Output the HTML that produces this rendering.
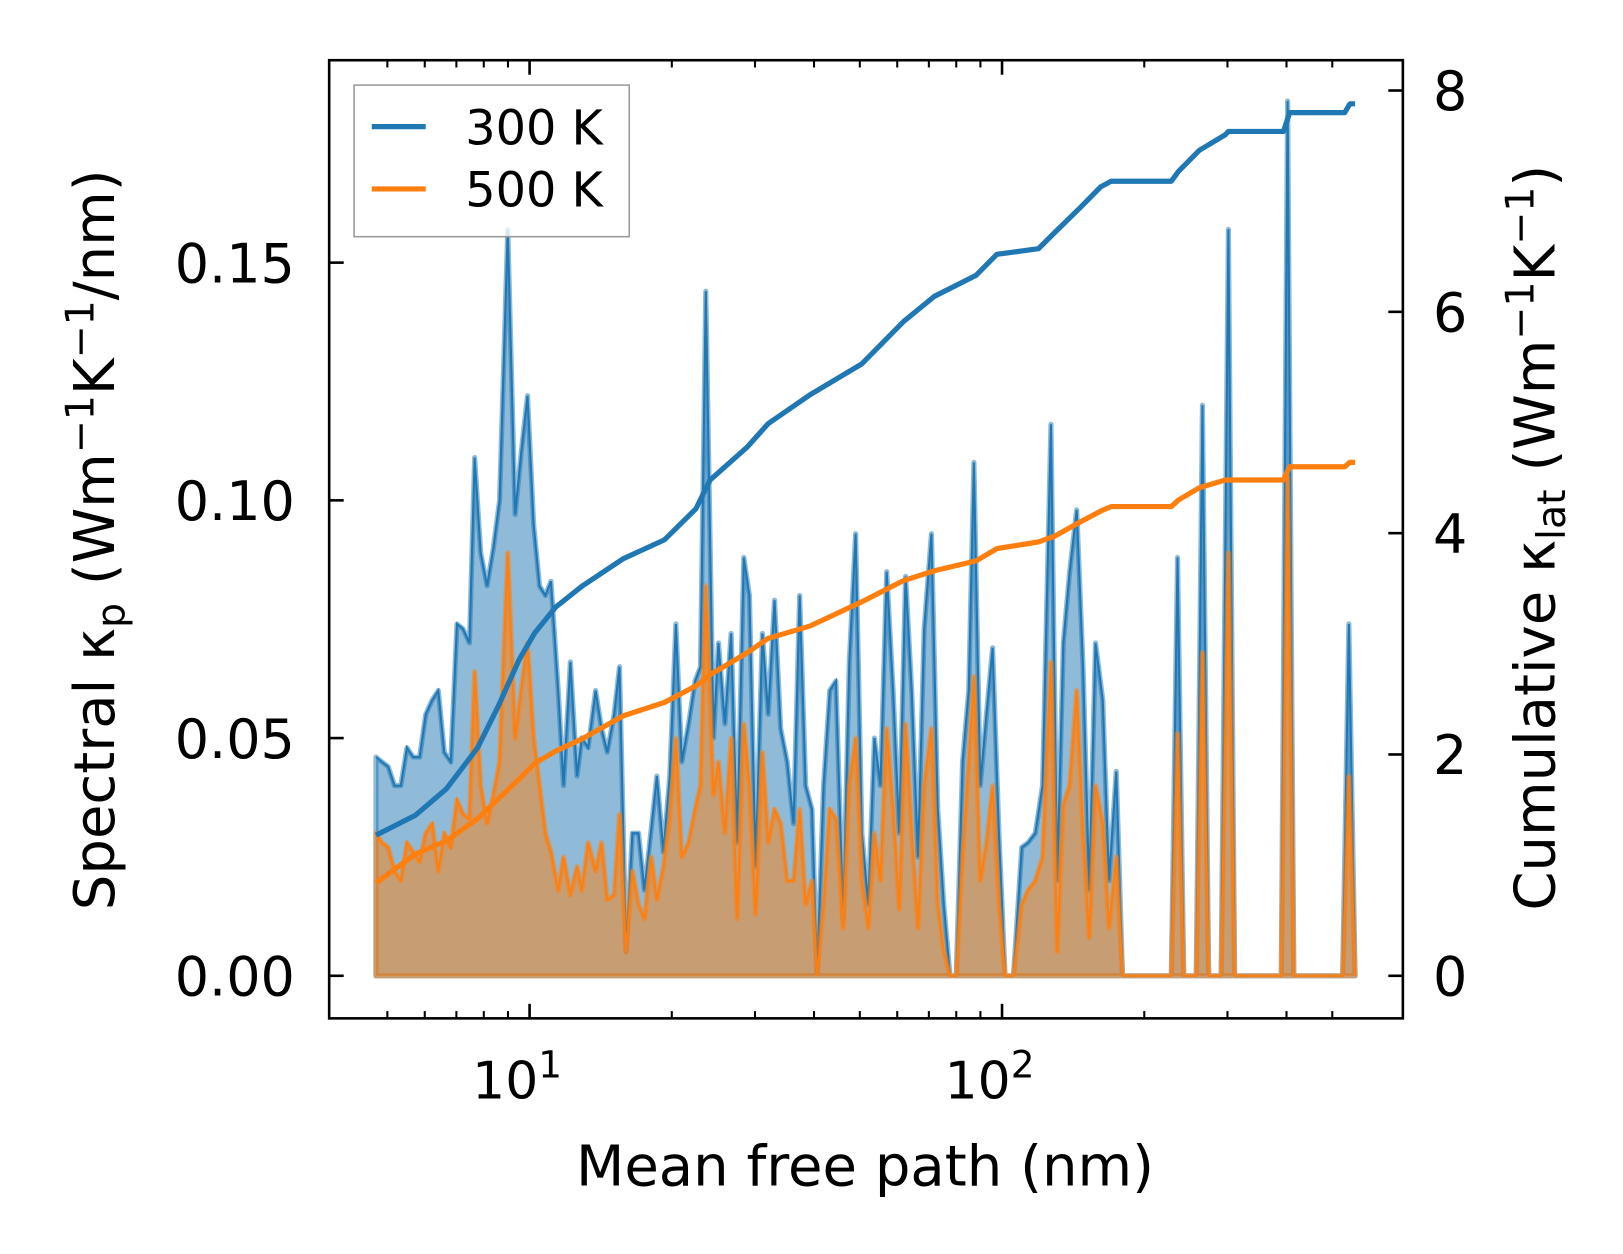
<!DOCTYPE html>
<html><head><meta charset="utf-8"><style>
html,body{margin:0;padding:0;background:#fff;}
svg text{font-family:"DejaVu Sans","Liberation Sans",sans-serif;fill:#000;}
</style></head><body>
<svg id="chart" style="position:absolute;left:0;top:0" width="1623" height="1254" viewBox="0 0 1563 1208" preserveAspectRatio="none" xmlns="http://www.w3.org/2000/svg">
<rect width="1563" height="1208" fill="#fff"/>
<g id="plot"></g>
<g id="axes"></g>
</svg>
<script>
const mfp = [4.73,4.87,5.02,5.18,5.34,5.50,5.67,5.85,6.03,6.22,6.41,6.60,6.81,7.02,7.23,7.46,7.65,7.88,8.13,8.38,8.64,8.99,9.32,9.60,9.90,10.2,10.5,10.8,11.1,11.5,11.8,12.2,12.6,12.9,13.3,13.8,14.2,14.6,15.1,15.5,16.0,16.5,17.0,17.5,18.1,18.6,19.2,19.8,20.4,21.0,21.7,22.4,23.0,23.6,24.5,25.1,25.9,26.7,27.5,28.4,29.2,30.1,31.1,32.0,33.0,34.0,35.1,36.2,37.3,38.4,39.6,40.6,41.9,43.2,44.5,46.1,47.5,49.0,50.5,52.1,53.7,55.3,57.0,58.8,60.6,62.5,64.4,66.4,68.4,70.9,73.1,75.3,77.6,80.0,82.5,85.0,87.2,89.9,92.7,95.5,98.5,101.5,105.7,110.1,113.5,117.6,121.8,126.9,130.8,134.8,139.0,143.9,148.4,153.0,157.7,163.4,168.4,174.5,179.9,228.2,235.2,242.4,257.6,265.6,273.8,290.9,301.4,310.7,390.0,402.1,414.5,525.9,542.1,558.8];
const spec300 = [0.046,0.045,0.044,0.040,0.040,0.048,0.046,0.046,0.055,0.058,0.060,0.047,0.045,0.074,0.073,0.070,0.109,0.089,0.082,0.090,0.100,0.157,0.097,0.110,0.122,0.095,0.082,0.080,0.083,0.060,0.040,0.066,0.042,0.050,0.048,0.060,0.052,0.047,0.055,0.065,0.005,0.030,0.030,0.018,0.031,0.042,0.026,0.042,0.074,0.045,0.053,0.062,0.065,0.144,0.050,0.070,0.053,0.072,0.028,0.088,0.080,0.023,0.072,0.055,0.079,0.052,0.045,0.032,0.080,0.040,0.035,0.000,0.040,0.060,0.062,0.012,0.066,0.093,0.030,0.015,0.050,0.040,0.085,0.060,0.030,0.084,0.060,0.025,0.073,0.093,0.035,0.015,0.000,0.000,0.045,0.060,0.108,0.040,0.055,0.069,0.030,0.000,0.000,0.027,0.028,0.030,0.040,0.116,0.020,0.070,0.085,0.098,0.065,0.018,0.070,0.058,0.020,0.043,0.000,0.000,0.088,0.000,0.000,0.120,0.000,0.000,0.157,0.000,0.000,0.184,0.000,0.000,0.074,0.000];
const spec500 = [0.030,0.028,0.027,0.022,0.020,0.028,0.026,0.024,0.030,0.032,0.022,0.030,0.027,0.037,0.034,0.033,0.064,0.040,0.032,0.038,0.045,0.089,0.050,0.060,0.070,0.050,0.040,0.030,0.026,0.018,0.025,0.017,0.023,0.018,0.028,0.022,0.028,0.016,0.017,0.034,0.005,0.022,0.015,0.012,0.025,0.016,0.023,0.033,0.050,0.025,0.028,0.035,0.040,0.082,0.038,0.045,0.030,0.050,0.012,0.053,0.040,0.013,0.047,0.028,0.035,0.032,0.020,0.020,0.035,0.015,0.020,0.000,0.015,0.035,0.033,0.010,0.040,0.050,0.020,0.010,0.030,0.020,0.052,0.035,0.014,0.053,0.030,0.010,0.040,0.052,0.015,0.005,0.000,0.000,0.025,0.045,0.063,0.020,0.028,0.040,0.015,0.000,0.000,0.015,0.018,0.020,0.025,0.066,0.005,0.036,0.040,0.060,0.030,0.008,0.040,0.032,0.010,0.025,0.000,0.000,0.051,0.000,0.000,0.068,0.000,0.000,0.089,0.000,0.000,0.105,0.000,0.000,0.042,0.000];
const cumMfp = [4.73,5.73,6.67,7.76,8.59,9.51,10.26,11.35,12.9,15.8,19.3,22.5,24.1,28.9,32.0,39.2,50.5,61.8,71.9,88.1,97.5,119.4,128.8,146.2,161.8,170.1,228.2,236.4,261.6,296.9,301.4,394.0,406.3,531.3,544.9,558.8];
const cum300 = [1.27,1.45,1.69,2.06,2.44,2.86,3.10,3.33,3.52,3.77,3.94,4.22,4.48,4.78,4.99,5.25,5.53,5.91,6.14,6.33,6.52,6.57,6.71,6.94,7.13,7.18,7.18,7.27,7.46,7.60,7.63,7.63,7.80,7.80,7.88,7.88];
const cum500 = [0.84,1.10,1.22,1.42,1.60,1.78,1.92,2.03,2.14,2.35,2.47,2.62,2.72,2.92,3.05,3.16,3.38,3.57,3.66,3.75,3.86,3.92,3.97,4.10,4.20,4.24,4.24,4.30,4.41,4.48,4.48,4.48,4.60,4.60,4.64,4.64];
const leftTicks = [0.00,0.05,0.10,0.15];
const leftLabels = ["0.00","0.05","0.10","0.15"];
const rightTicks = [0,2,4,6,8];
const xMajor = [10,100];

const NS="http://www.w3.org/2000/svg";
const L=317,R=1351,T=58,B=981;
const xs = v => 510 + 455*(Math.log10(v)-1);
const yl = v => 940 - v*4580;
const yr = v => 940 - v*106.6;
const plot=document.getElementById('plot'), axes=document.getElementById('axes');
function mk(tag,attrs,parent){const e=document.createElementNS(NS,tag);for(const k in attrs)e.setAttribute(k,attrs[k]);parent.appendChild(e);return e;}
function areaPath(xa,ya){let d=`M${xs(xa[0])},${yl(0)}`;xa.forEach((v,i)=>{d+=` L${xs(v).toFixed(1)},${yl(ya[i]).toFixed(1)}`;});d+=` L${xs(xa[xa.length-1])},${yl(0)} Z`;return d;}
function linePath(xa,ya,yf){return xa.map((v,i)=>(i?'L':'M')+xs(v).toFixed(1)+','+yf(ya[i]).toFixed(1)).join(' ');}

const a3=mk('path',{d:areaPath(mfp,spec300),fill:'#1f77b4','fill-opacity':0.5,stroke:'#1f77b4','stroke-opacity':0.5,'stroke-width':5,'stroke-linejoin':'round'},plot);


const l3=mk('path',{d:linePath(mfp,spec300,yl),fill:'none',stroke:'#1f77b4','stroke-width':2},plot);


const a5=mk('path',{d:areaPath(mfp,spec500),fill:'#ff7f0e','fill-opacity':0.5,stroke:'#ff7f0e','stroke-opacity':0.5,'stroke-width':5,'stroke-linejoin':'round'},plot);


const l5=mk('path',{d:linePath(mfp,spec500,yl),fill:'none',stroke:'#ff7f0e','stroke-width':2},plot);


const c3=mk('path',{d:linePath(cumMfp,cum300,yr),fill:'none',stroke:'#1f77b4','stroke-width':5,'stroke-linejoin':'round'},plot);


const c5=mk('path',{d:linePath(cumMfp,cum500,yr),fill:'none',stroke:'#ff7f0e','stroke-width':5,'stroke-linejoin':'round'},plot);



const fr=mk('rect',{x:L,y:T,width:R-L,height:B-T,fill:'none',stroke:'#000','stroke-width':2.5},axes);


const minors=[5,6,7,8,9,20,30,40,50,60,70,80,90,200,300,400,500];
minors.forEach(v=>{const x=xs(v);
 const t1=mk('line',{x1:x,x2:x,y1:B,y2:B-7,stroke:'#000','stroke-width':2},axes);
 
 
 const t2=mk('line',{x1:x,x2:x,y1:T,y2:T+7,stroke:'#000','stroke-width':2},axes);
 
 });
xMajor.forEach((v,i)=>{const x=xs(v);
 const t1=mk('line',{x1:x,x2:x,y1:B,y2:B-14,stroke:'#000','stroke-width':2.5},axes);
 
 
 const t2=mk('line',{x1:x,x2:x,y1:T,y2:T+14,stroke:'#000','stroke-width':2.5},axes);
 
 
 const tx=mk('text',{x:x-12,y:1058,'font-size':50,'text-anchor':'middle'},axes);
 tx.innerHTML='10<tspan dy="-20" font-size="36">'+(i+1)+'</tspan>';
 
 });
leftTicks.forEach((v,i)=>{const y=yl(v);
 const t=mk('line',{x1:L,x2:L+14,y1:y,y2:y,stroke:'#000','stroke-width':2.5},axes);
 
 
 const tx=mk('text',{x:284,y:y+19,'font-size':52,'text-anchor':'end'},axes);
 tx.textContent=leftLabels[i];
 
 });
rightTicks.forEach(v=>{const y=yr(v);
 const t=mk('line',{x1:R,x2:R-14,y1:y,y2:y,stroke:'#000','stroke-width':2.5},axes);
 
 
 const tx=mk('text',{x:1380,y:y+19,'font-size':52,'text-anchor':'start'},axes);
 tx.textContent=String(v);
 
 });
</script>
<svg style="position:absolute;left:0;top:0" width="1623" height="1254" viewBox="0 0 1563 1208" preserveAspectRatio="none" xmlns="http://www.w3.org/2000/svg">
<text x="833" y="1142" font-size="54" text-anchor="middle">Mean free path (nm)</text>
<text transform="translate(110,520) rotate(-90)" font-size="54" text-anchor="middle">Spectral κ<tspan font-size="38" dy="10">p</tspan><tspan dy="-10"> (Wm</tspan><tspan font-size="38" dy="-20">−1</tspan><tspan dy="20">K</tspan><tspan font-size="38" dy="-20">−1</tspan><tspan dy="20">/nm)</tspan></text>
<text transform="translate(1497,518) rotate(-90)" font-size="54" text-anchor="middle">Cumulative κ<tspan font-size="38" dy="10">lat</tspan><tspan dy="-10"> (Wm</tspan><tspan font-size="38" dy="-20">−1</tspan><tspan dy="20">K</tspan><tspan font-size="38" dy="-20">−1</tspan><tspan dy="20">)</tspan></text>
<g>
<rect x="341" y="82" width="265" height="146" fill="#fff" fill-opacity="0.8" stroke="#999" stroke-width="1.5"/>
<line x1="358" y1="122" x2="410" y2="122" stroke="#1f77b4" stroke-width="5"/>
<text x="448" y="139" font-size="46">300 K</text>
<line x1="358" y1="182" x2="410" y2="182" stroke="#ff7f0e" stroke-width="5"/>
<text x="448" y="199" font-size="46">500 K</text>
</g>
</svg>
</body></html>
